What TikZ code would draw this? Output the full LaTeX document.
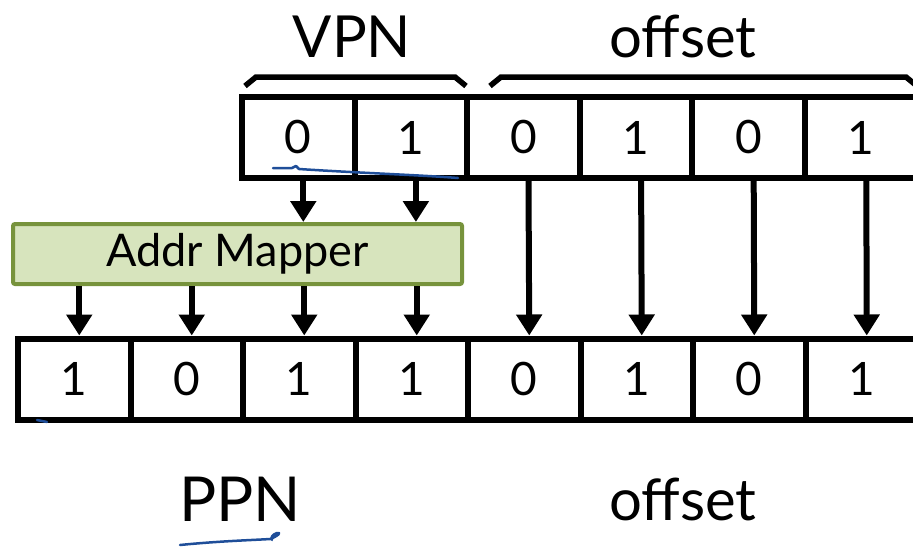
\documentclass[tikz,border=0pt]{standalone}
\usepackage{fontspec}
\setmainfont{Lato}
\usetikzlibrary{arrows.meta}
\definecolor{mapfill}{HTML}{D7E4BD}
\definecolor{mapline}{HTML}{77933C}
\definecolor{ink}{HTML}{1F4E99}
\begin{document}
\begin{tikzpicture}[x=1pt,y=-1pt,
  cell/.style={draw=black,line width=6pt,minimum width=112.5pt,minimum height=81pt,inner sep=0pt,
    font=\fontsize{46}{48}\selectfont},
  bitarrow/.style={line width=6pt,-{Triangle[width=25pt,length=21pt]}},
  bracket/.style={line width=5.5pt},
  label/.style={font=\fontsize{58}{60}\selectfont,inner sep=0pt,anchor=base},
  handink/.style={draw=ink,line width=2.5pt,line cap=round,line join=round}]
\useasboundingbox (0,0) rectangle (913,547);
\clip (0,0) rectangle (913,547);
% top row
\foreach \i/\v in {1/0,2/1,3/0,4/1,5/0,6/1}{
  \node[cell] (t\i) at ({242+112.6*(\i-1)+56.3},137.5) {\v};
}
% bottom row
\foreach \i/\v in {1/1,2/0,3/1,4/1,5/0,6/1,7/0,8/1}{
  \node[cell] (b\i) at ({18+112.5*(\i-1)+56.25},379) {\v};
}
% mapper
\node[draw=mapline,fill=mapfill,line width=4pt,rounded corners=2pt,minimum width=449pt,minimum height=60pt,
  inner sep=0pt,font=\fontsize{45}{47}\selectfont] (mapper) at (237.5,254) {Addr Mapper};
% labels
\node[label] (vpn) at (352,57) {VPN};
\node[label] (off1) at (683,57) {offset};
\node[label,font=\fontsize{62}{64}\selectfont] (ppn) at (240,521) {PPN};
\node[label] (off2) at (683,520) {offset};
% brackets
\draw[bracket] (245,86) -- (256,77) -- (455,77) -- (466,86);
\draw[bracket] (490,86) -- (501,77) -- (906,77) -- (917,86);
% arrows VPN -> mapper
\foreach \i in {1,2}{
  \draw[bitarrow] ([xshift=5pt]t\i.south) -- ([xshift=5pt]t\i.south |- mapper.north);
}
% arrows mapper -> PPN
\foreach \i in {1,2,3,4}{
  \draw[bitarrow] ([xshift=5pt]b\i.north |- mapper.south) -- ([xshift=5pt]b\i.north);
}
% offset arrows
\foreach \i/\j in {3/5,4/6,5/7,6/8}{
  \draw[bitarrow] ([xshift=5pt]t\i.south) -- ([xshift=5pt]b\j.north);
}
% hand-drawn ink
\draw[handink] (273,168) -- (292,168) -- (296,166) -- (299,169) .. controls (360,173) and (420,175) .. (458,178);
\draw[handink] (37,420) -- (47,422);
\draw[handink] (180,545) .. controls (220,541) and (255,540) .. (270,539)
  .. controls (278,536) and (282,532) .. (277,533) .. controls (273,534) and (270,538) .. (272,540);
\end{tikzpicture}
\end{document}
